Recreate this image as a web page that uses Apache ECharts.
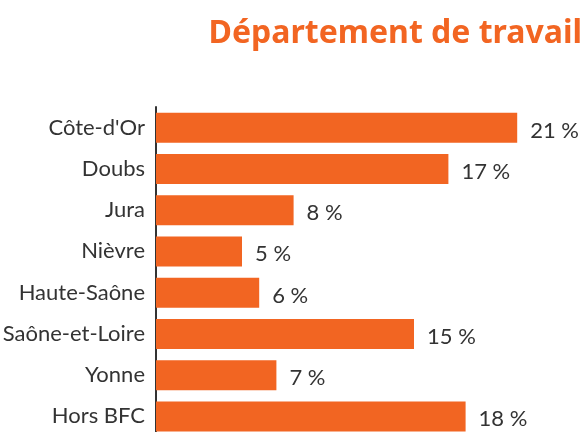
<!DOCTYPE html>
<html>
<head>
<meta charset="utf-8">
<script src="https://cdn.jsdelivr.net/npm/echarts@6/dist/echarts.min.js"></script>
<style>
  html, body { margin: 0; padding: 0; background: #fff; }
  #main { width: 588px; height: 432px; }
</style>
</head>
<body>
<div id="main"></div>
<script>
// départements, du haut vers le bas
var departements = ['Côte-d\'Or', 'Doubs', 'Jura', 'Nièvre', 'Haute-Saône', 'Saône-et-Loire', 'Yonne', 'Hors BFC'];
var parts = [21, 17, 8, 5, 6, 15, 7, 18];

var orange = '#F26522';
var myChart = echarts.init(document.getElementById('main'));

var option = {
  animation: false,
  title: {
    text: 'Département de travail',
    right: 1,
    top: 13,
    textStyle: {
      color: orange,
      fontFamily: 'Noto Sans',
      fontWeight: 'bold',
      fontSize: 32
    }
  },
  grid: {
    left: 156,
    right: 2,
    top: 107,
    height: 330,
    containLabel: false,
    outerBoundsMode: 'none'
  },
  xAxis: {
    type: 'value',
    min: 0,
    max: 25,
    show: false
  },
  yAxis: {
    type: 'category',
    inverse: true,
    data: departements,
    axisLine: { show: true, lineStyle: { color: '#333', width: 2 } },
    axisTick: { show: false },
    axisLabel: {
      margin: 11,
      color: '#333',
      fontFamily: 'Lato',
      fontSize: 22
    }
  },
  series: [{
    type: 'bar',
    data: parts,
    barWidth: 30,
    itemStyle: { color: orange },
    label: {
      show: true,
      position: 'right',
      distance: 13,
      offset: [0, 3],
      formatter: '{c} %',
      color: '#333',
      fontFamily: 'Lato',
      fontSize: 22
    }
  }]
};
myChart.setOption(option);
</script>
</body>
</html>
